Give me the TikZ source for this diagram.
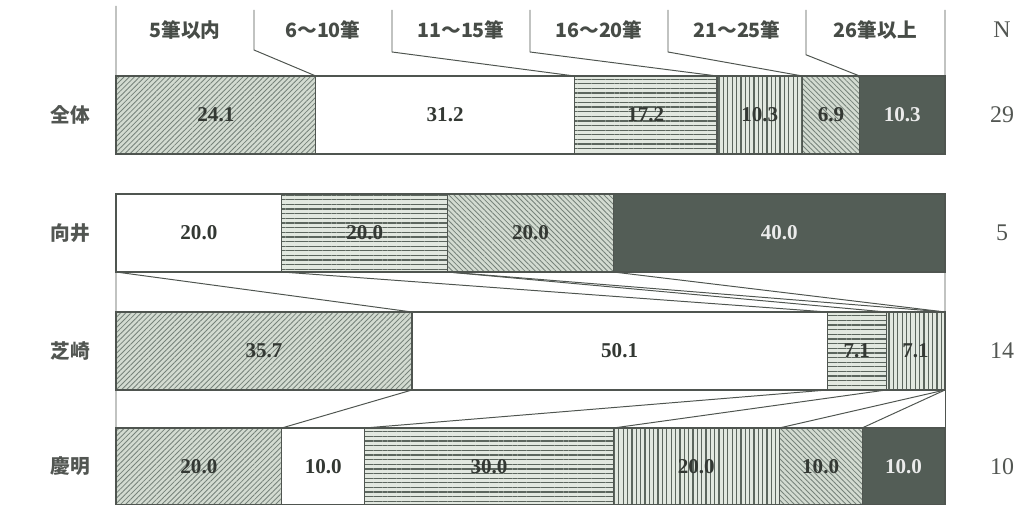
\documentclass[tikz,border=0pt]{standalone}
\usepackage{xcolor}
\usepackage{fontspec}
\setmainfont{Liberation Serif}
\newfontfamily\jp{Noto Sans CJK JP}
\usepackage{tikz}
\usetikzlibrary{patterns.meta}
\definecolor{edge}{HTML}{4F5550}
\definecolor{ink}{HTML}{333833}
\definecolor{hatchbg}{HTML}{D3DBD1}
\definecolor{hatchln}{HTML}{76827A}
\definecolor{linebg}{HTML}{E2E8E0}
\definecolor{lineln}{HTML}{5C665E}
\definecolor{dark}{HTML}{535D56}

\tikzset{
  seg/.style={draw=edge, line width=0.8pt, minimum height=1.95cm, inner sep=0pt, outer sep=0pt,
    text=ink, font=\bfseries\fontsize{15}{17}\selectfont},
  fwd/.style={seg, preaction={fill=hatchbg}, pattern={Lines[angle=45,distance=2.6pt,line width=0.6pt]}, pattern color=hatchln},
  blank/.style={seg, fill=white},
  hline/.style={seg, preaction={fill=linebg}, pattern={Lines[angle=0,distance=3.3pt,line width=0.9pt]}, pattern color=lineln},
  vline/.style={seg, preaction={fill=linebg}, pattern={Lines[angle=90,distance=3.1pt,line width=0.9pt]}, pattern color=lineln},
  bwd/.style={seg, preaction={fill=hatchbg}, pattern={Lines[angle=-45,distance=2.6pt,line width=0.6pt]}, pattern color=hatchln},
  dark/.style={seg, fill=dark, text=white!92!black},
  rowlab/.style={font=\jp\bfseries\fontsize{14}{16}\selectfont, text=ink!85},
  headlab/.style={font=\jp\bfseries\fontsize{14}{16}\selectfont, text=ink!90},
  nlab/.style={font=\fontsize{17}{19}\selectfont, text=ink!85},
  link/.style={draw=edge, line width=0.7pt}
}

\begin{document}
\begin{tikzpicture}
\useasboundingbox (0,0) rectangle (25.475,12.65);%
% 全体
\node[fwd,   minimum width=4.995cm] (a1) at (5.3975, 9.775) {24.1};%
\node[blank, minimum width=6.466cm] (a2) at (11.128, 9.775) {31.2};%
\node[hline, minimum width=3.565cm] (a3) at (16.1435, 9.775) {17.2};%
\node[vline, minimum width=2.134cm] (a4) at (18.993, 9.775) {10.3};%
\node[bwd,   minimum width=1.430cm] (a5) at (20.775, 9.775) {6.9};%
\node[dark,  minimum width=2.135cm] (a6) at (22.5575, 9.775) {10.3};%
% 向井
\node[blank, minimum width=4.145cm] (b2) at (4.9725, 6.825) {20.0};%
\node[hline, minimum width=4.145cm] (b3) at (9.1175, 6.825) {20.0};%
\node[bwd,   minimum width=4.145cm] (b5) at (13.2625, 6.825) {20.0};%
\node[dark,  minimum width=8.290cm] (b6) at (19.48, 6.825) {40.0};%
% 芝崎
\node[fwd,   minimum width=7.399cm] (c1) at (6.5995, 3.875) {35.7};%
\node[blank, minimum width=10.383cm] (c2) at (15.4905, 3.875) {50.1};%
\node[hline, minimum width=1.472cm] (c3) at (21.418, 3.875) {7.1};%
\node[vline, minimum width=1.471cm] (c4) at (22.8895, 3.875) {7.1};%
% 慶明
\node[fwd,   minimum width=4.145cm, minimum height=1.92cm] (d1) at (4.9725, 0.99) {20.0};%
\node[blank, minimum width=2.0725cm, minimum height=1.92cm] (d2) at (8.08125, 0.99) {10.0};%
\node[hline, minimum width=6.2175cm, minimum height=1.92cm] (d3) at (12.22625, 0.99) {30.0};%
\node[vline, minimum width=4.145cm, minimum height=1.92cm] (d4) at (17.4075, 0.99) {20.0};%
\node[bwd,   minimum width=2.0725cm, minimum height=1.92cm] (d5) at (20.51625, 0.99) {10.0};%
\node[dark,  minimum width=2.0725cm, minimum height=1.92cm] (d6) at (22.58875, 0.99) {10.0};%
% header
\coordinate (t0) at (2.9, 12.5);%
\coordinate (t1) at (6.35, 12.4);%
\coordinate (t2) at (9.8, 12.4);%
\coordinate (t3) at (13.25, 12.4);%
\coordinate (t4) at (16.7, 12.4);%
\coordinate (t5) at (20.15, 12.4);%
\coordinate (t6) at (23.625, 12.4);%
\coordinate (k1) at (6.35, 11.4);%
\coordinate (k2) at (9.8, 11.35);%
\coordinate (k3) at (13.25, 11.35);%
\coordinate (k4) at (16.7, 11.35);%
\coordinate (k5) at (20.15, 11.28);%
\draw[link] (t0) -- (a1.north west);%
\draw[link] (t1) -- (k1) -- (a1.north east);%
\draw[link] (t2) -- (k2) -- (a2.north east);%
\draw[link] (t3) -- (k3) -- (a3.north east);%
\draw[link] (t4) -- (k4) -- (a4.north east);%
\draw[link] (t5) -- (k5) -- (a5.north east);%
\draw[link] (t6) -- (a6.north east);%
\node[headlab] (h1) at (4.625, 11.9) {5筆以内};%
\node[headlab] (h2) at (8.075, 11.9) {6〜10筆};%
\node[headlab] (h3) at (11.525, 11.9) {11〜15筆};%
\node[headlab] (h4) at (14.975, 11.9) {16〜20筆};%
\node[headlab] (h5) at (18.425, 11.9) {21〜25筆};%
\node[headlab] (h6) at (21.8875, 11.9) {26筆以上};%
\node[nlab] (nn) at (25.05, 11.9) {N};%
% 向井 -> 芝崎
\draw[link] (b2.south west) -- (c1.north west);%
\draw[link] (b6.south east) -- (c4.north east);%
\draw[link] (b2.south west) -- (c1.north east);%
\draw[link] (b2.south east) -- (c2.north east);%
\draw[link] (b3.south east) -- (c3.north east);%
\draw[link] (b3.south east) -- (c4.north east);%
\draw[link] (b5.south east) -- (c4.north east);%
% 芝崎 -> 慶明
\draw[link] (c1.south west) -- (d1.north west);%
\draw[link] (c4.south east) -- (d6.north east);%
\draw[link] (c1.south east) -- (d1.north east);%
\draw[link] (c2.south east) -- (d2.north east);%
\draw[link] (c3.south east) -- (d3.north east);%
\draw[link] (c4.south east) -- (d4.north east);%
\draw[link] (c4.south east) -- (d5.north east);%
% rows
\node[rowlab] (r1) at (1.75, 9.775) {全体};%
\node[rowlab] (r2) at (1.75, 6.825) {向井};%
\node[rowlab] (r3) at (1.75, 3.875) {芝崎};%
\node[rowlab] (r4) at (1.75, 0.99) {慶明};%
\node[nlab] (n1) at (25.05, 9.775) {29};%
\node[nlab] (n2) at (25.05, 6.825) {5};%
\node[nlab] (n3) at (25.05, 3.875) {14};%
\node[nlab] (n4) at (25.05, 0.99) {10};%
\end{tikzpicture}
\end{document}
